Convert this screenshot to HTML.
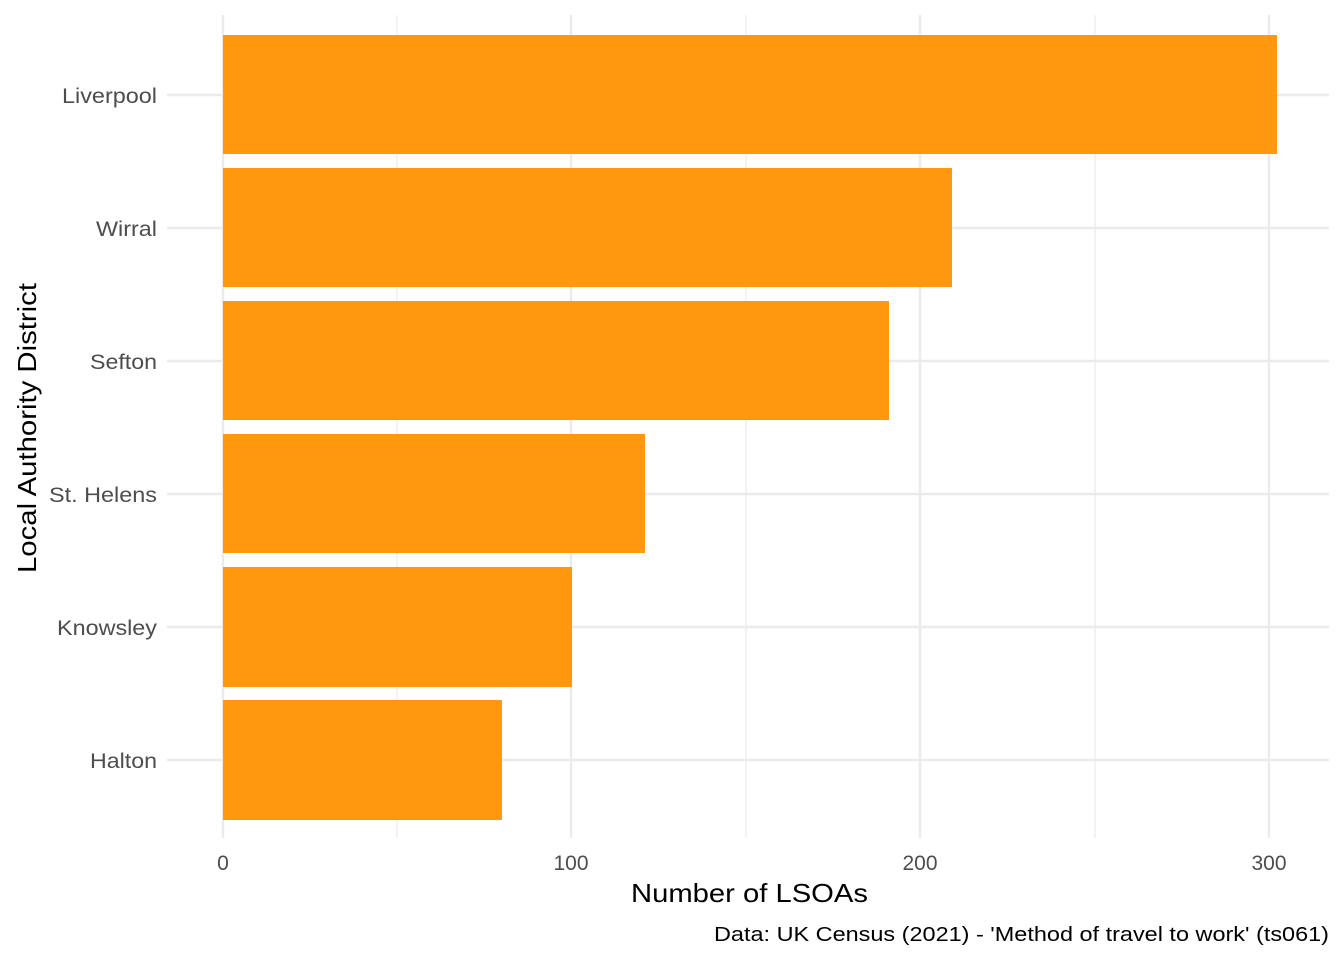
<!DOCTYPE html>
<html><head><meta charset="utf-8"><style>
html,body{margin:0;padding:0;background:#fff;}
text{font-family:"Liberation Sans",Arial,sans-serif;}
</style></head><body>
<svg width="1344" height="960" xmlns="http://www.w3.org/2000/svg">
<rect width="1344" height="960" fill="#fff"/>
<g stroke="#EBEBEB" stroke-width="1.2">
<line x1="397" y1="15" x2="397" y2="838"/>
<line x1="746" y1="15" x2="746" y2="838"/>
<line x1="1095" y1="15" x2="1095" y2="838"/>
</g>
<g stroke="#EBEBEB" stroke-width="2.4">
<line x1="223" y1="15" x2="223" y2="838"/>
<line x1="571" y1="15" x2="571" y2="838"/>
<line x1="920" y1="15" x2="920" y2="838"/>
<line x1="1269" y1="15" x2="1269" y2="838"/>
<line x1="167" y1="95" x2="1329" y2="95"/>
<line x1="167" y1="228" x2="1329" y2="228"/>
<line x1="167" y1="361" x2="1329" y2="361"/>
<line x1="167" y1="494" x2="1329" y2="494"/>
<line x1="167" y1="627" x2="1329" y2="627"/>
<line x1="167" y1="760" x2="1329" y2="760"/>
</g>
<g fill="#FF980E">
<rect x="223" y="35" width="1054" height="119"/>
<rect x="223" y="168" width="729" height="119"/>
<rect x="223" y="301" width="666" height="119"/>
<rect x="223" y="434" width="422" height="119"/>
<rect x="223" y="567" width="349" height="120"/>
<rect x="223" y="700" width="279" height="120"/>
</g>
<g fill="#4D4D4D" font-size="21" lengthAdjust="spacingAndGlyphs">
<text x="62" y="103" textLength="95" lengthAdjust="spacingAndGlyphs">Liverpool</text>
<text x="96" y="236" textLength="61" lengthAdjust="spacingAndGlyphs">Wirral</text>
<text x="90" y="369" textLength="67" lengthAdjust="spacingAndGlyphs">Sefton</text>
<text x="49" y="502" textLength="108" lengthAdjust="spacingAndGlyphs">St. Helens</text>
<text x="57" y="635" textLength="100" lengthAdjust="spacingAndGlyphs">Knowsley</text>
<text x="90" y="768" textLength="67" lengthAdjust="spacingAndGlyphs">Halton</text>
</g>
<g fill="#4D4D4D" font-size="21" text-anchor="middle">
<text x="223" y="870">0</text>
<text x="571" y="870">100</text>
<text x="920" y="870">200</text>
<text x="1269" y="870">300</text>
</g>
<text x="631" y="902" font-size="26" textLength="237" lengthAdjust="spacingAndGlyphs" fill="#000">Number of LSOAs</text>
<text transform="translate(36,573) rotate(-90)" font-size="26" textLength="290" lengthAdjust="spacingAndGlyphs" fill="#000">Local Authority District</text>
<text x="714" y="941" font-size="20" textLength="615" lengthAdjust="spacingAndGlyphs" fill="#000">Data: UK Census (2021) - 'Method of travel to work' (ts061)</text>
</svg>
</body></html>
